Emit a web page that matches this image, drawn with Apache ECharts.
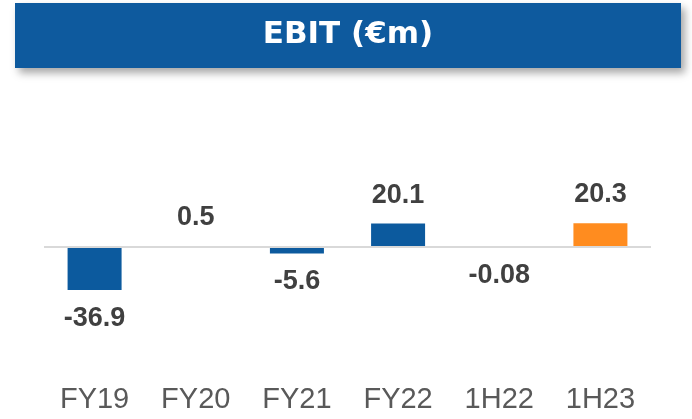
<!DOCTYPE html>
<html>
<head>
<meta charset="utf-8">
<script src="https://cdn.jsdelivr.net/npm/echarts@6/dist/echarts.min.js"></script>
<style>
  html, body { margin: 0; padding: 0; background: #fff; }
  #chart { width: 692px; height: 419px; }
</style>
</head>
<body>
<div id="chart"></div>
<script>
// data
const categories = ["FY19", "FY20", "FY21", "FY22", "1H22", "1H23"]
const ebitValues = [-36.9, 0.5, -5.6, 20.1, -0.08, 20.3]
const valueLabels = ["-36.9", "0.5", "-5.6", "20.1", "-0.08", "20.3"]
const highlightCategory = "1H23"

const BLUE = "#0C5A9E"
const ORANGE = "#FF8C1F"

const chart = echarts.init(document.getElementById("chart"))

const option = {
  animation: false,
  graphic: [
    {
      type: "rect",
      shape: { x: 15, y: 3, width: 666, height: 65 },
      style: {
        fill: "#0E5A9E",
        shadowBlur: 8,
        shadowOffsetX: 4,
        shadowOffsetY: 5,
        shadowColor: "rgba(0,0,0,0.35)",
      },
    },
    {
      type: "text",
      x: 348,
      y: 35,
      style: {
        text: "EBIT (€m)",
        fill: "#fff",
        font: "bold 31px 'DejaVu Sans'",
        align: "center",
        verticalAlign: "middle",
      },
    },
  ],
  grid: {
    left: 44,
    right: 41,
    top: 177,
    height: 140,
  },
  xAxis: {
    type: "category",
    data: categories,
    axisLine: { show: false, onZero: false },
    axisTick: { show: false },
    axisLabel: {
      margin: 68,
      color: "#595959",
      fontSize: 29,
      fontFamily: "Liberation Sans",
    },
  },
  yAxis: {
    type: "value",
    min: -60,
    max: 60,
    show: false,
  },
  series: [
    {
      type: "bar",
      barWidth: 54,
      data: ebitValues.map((v, i) => ({
        value: v,
        itemStyle: { color: categories[i] === highlightCategory ? ORANGE : BLUE },
        label: {
          position: v >= 0 ? "top" : "bottom",
        },
      })),
      label: {
        show: true,
        distance: 15,
        color: "#404040",
        fontSize: 27,
        fontWeight: "bold",
        fontFamily: "Liberation Sans",
        formatter: (p) => valueLabels[p.dataIndex],
      },
      markLine: {
        silent: true,
        symbol: "none",
        label: { show: false },
        lineStyle: { color: "#D9D9D9", width: 2, type: "solid" },
        data: [{ yAxis: 0 }],
      },
    },
  ],
}

chart.setOption(option)
</script>
</body>
</html>
